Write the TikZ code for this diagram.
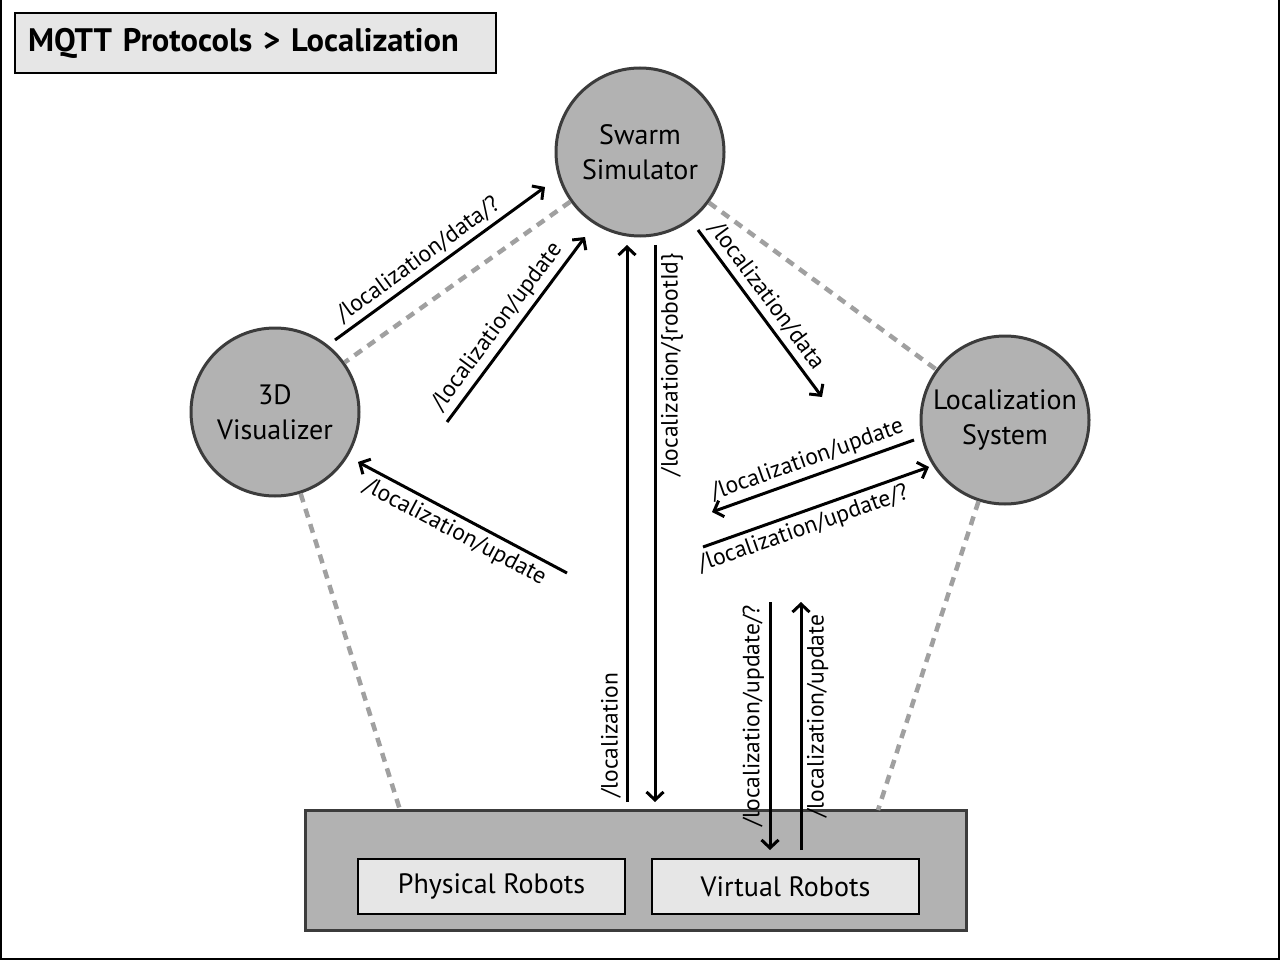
\documentclass[tikz,border=0pt]{standalone}
\usepackage{fontspec}
\setmainfont{PT Sans}
\usetikzlibrary{arrows.meta}
\definecolor{hubgray}{RGB}{178,178,178}
\definecolor{rimgray}{RGB}{60,60,60}
\definecolor{dashgray}{RGB}{160,160,160}
\definecolor{boxgray}{RGB}{230,230,230}
\tikzset{hub/.style={circle,draw=rimgray,line width=3pt,fill=hubgray,minimum size=168pt,
   align=center,inner sep=0pt,font=\fontsize{28}{35}\selectfont},
 link/.style={draw=dashgray,line width=4.5pt,dash pattern=on 9pt off 7pt},
 msg/.style={line width=3pt,-{Straight Barb[length=8pt,width=17pt,line width=3pt]}},
 topic/.style={font=\fontsize{23.5}{26}\selectfont,inner sep=4.5pt},
 robotbox/.style={draw=black,line width=1.5pt,fill=boxgray,minimum width=267pt,
   minimum height=55pt,font=\fontsize{28}{32}\selectfont},
 }

\begin{document}
\begin{tikzpicture}[x=1pt,y=-1pt]
  \useasboundingbox (0,0) rectangle (1280,960);
  \draw[line width=2pt] (1,0) -- (1,959) -- (1279,959) -- (1279,0);

  % title
  \node[draw=black,line width=1.5pt,fill=boxgray,text width=455pt,inner xsep=13pt,
    minimum height=60pt,align=left,font=\fontsize{32.5}{36}\selectfont\bfseries]
    (title) at (255.5,43) {MQTT Protocols > Localization};

  % components
  \node[hub] (swarm) at (640,152) {Swarm\\Simulator};
  \node[hub] (viz) at (275,412) {3D\\Visualizer};
  \node[hub] (locsys) at (1005,420) {Localization\\System};
  \node[draw=rimgray,line width=3pt,fill=hubgray,minimum width=661pt,minimum height=120pt]
    (robots) at (635.5,870) {};
  \node[robotbox] (physical) at (491.5,886.5) {Physical Robots};
  \node[robotbox] (virtual) at (785.5,886.5) {Virtual Robots};

  % dashed links
  \coordinate (vizfoot) at (400,810);
  \coordinate (locfoot) at (878,810);
  \draw[link] (swarm) -- (viz);
  \draw[link] (swarm) -- (locsys);
  \draw[link] (viz) -- (vizfoot);
  \draw[link] (locsys) -- (locfoot);

  % message ends
  \coordinate (dq0) at (335,340);   \coordinate (dq1) at (545,187);
  \coordinate (vu0) at (447,422);   \coordinate (vu1) at (585,237);
  \coordinate (ru0) at (567,573);   \coordinate (ru1) at (358,462);
  \coordinate (lo0) at (627,802);   \coordinate (lo1) at (627,245);
  \coordinate (ri0) at (655,245);   \coordinate (ri1) at (655,802);
  \coordinate (da0) at (698,230);   \coordinate (da1) at (822,397);
  \coordinate (lu0) at (914,440);   \coordinate (lu1) at (712,512);
  \coordinate (uq0) at (703,547);   \coordinate (uq1) at (929,467);
  \coordinate (vq0) at (770,602);   \coordinate (vq1) at (770,850);
  \coordinate (vv0) at (801,850);   \coordinate (vv1) at (801,602);

  % messages
  \draw[msg] (dq0) -- node[topic,sloped,above,pos=.44] {/localization/data/?} (dq1);
  \draw[msg] (vu0) -- node[topic,sloped,above,pos=.46] {/localization/update} (vu1);
  \draw[msg] (ru0) -- node[topic,sloped,below,pos=.5] {/localization/update} (ru1);
  \draw[msg] (lo0) -- node[topic,rotate=90,anchor=south,pos=.12] {/localization} (lo1);
  \draw[msg] (ri0) -- node[topic,rotate=90,anchor=north,pos=.215] {/localization/\{robotId\}} (ri1);
  \draw[msg] (da0) -- node[topic,sloped,above,pos=.45] {/localization/data} (da1);
  \draw[msg] (lu0) -- node[topic,sloped,above,pos=.5] {/localization/update} (lu1);
  \draw[msg] (uq0) -- node[topic,sloped,below,pos=.42] {/localization/update/?} (uq1);
  \draw[msg] (vq0) -- node[topic,rotate=90,anchor=south,pos=.46] {/localization/update/?} (vq1);
  \draw[msg] (vv0) -- node[topic,rotate=90,anchor=north,pos=.54] {/localization/update} (vv1);
\end{tikzpicture}
\end{document}
